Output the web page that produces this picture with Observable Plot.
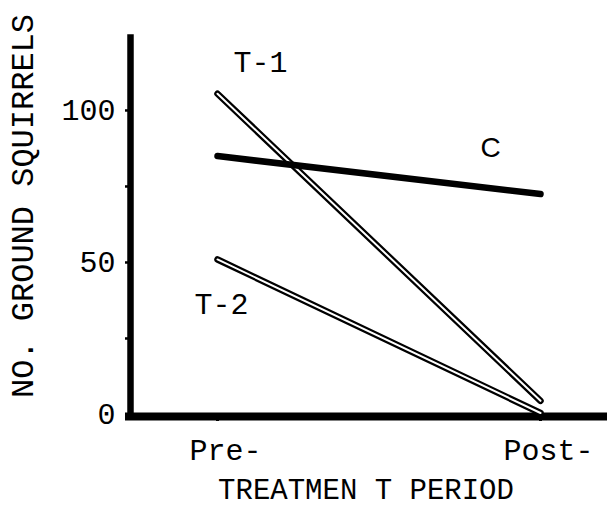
<!DOCTYPE html>
<html>
<head>
<meta charset="utf-8">
<script src="https://cdn.jsdelivr.net/npm/d3@7"></script>
<script src="https://cdn.jsdelivr.net/npm/@observablehq/plot@0.6"></script>
<style>
  html, body { margin: 0; padding: 0; background: #fff; }
</style>
</head>
<body>
<div id="chart"></div>
<script>
// ---- data ----
const periods = ["Pre-", "Post-"];
const seriesNames = ["T-1", "C", "T-2"];
const t1Values = [105.5, 4.5];
const cValues = [85, 72.5];
const t2Values = [51, 0.5];
const yTicks = [0, 25, 50, 75, 100];
const yTickLabels = [0, 50, 100];
const xTitle = "TREATMEN T PERIOD";
const yTitle = "NO. GROUND SQUIRRELS";

const valuesBySeries = { "T-1": t1Values, "C": cValues, "T-2": t2Values };
const rows = seriesNames.flatMap(s => periods.map((p, i) => ({ series: s, period: p, value: valuesBySeries[s][i] })));
const treated = rows.filter(d => d.series !== "C");
const control = rows.filter(d => d.series === "C");
const starts = rows.filter(d => d.period === "Pre-");
const ends = rows.filter(d => d.period === "Post-");

const mono = "'Liberation Mono', 'Courier New', monospace";

const chart = Plot.plot({
  width: 610,
  height: 507,
  marginLeft: 130,
  marginRight: 3,
  marginTop: 37,
  marginBottom: 93,
  style: { fontFamily: mono, fontSize: "30px", background: "white", color: "black" },
  x: { type: "point", domain: periods, range: [217, 540], padding: 0 },
  y: { domain: [0, 124] },
  marks: [
    Plot.axisY({ ticks: yTicks, tickSize: 5, tickPadding: 10, strokeWidth: 2.5, fontSize: 30,
      tickFormat: d => yTickLabels.includes(d) ? String(d) : "", label: null }),
    Plot.axisX({ tickSize: 7, tickPadding: 17, strokeWidth: 3, fontSize: 30, label: null, text: null }),
    Plot.axisX({ tickSize: 0, tickPadding: 24, fontSize: 30, label: null, dx: 8 }),
    Plot.frame({ anchor: "left", stroke: "black", strokeWidth: 6.5 }),
    Plot.ruleY([0], { stroke: "black", strokeWidth: 8, dy: 2, insetLeft: -5 }),
    Plot.line(treated, { x: "period", y: "value", z: "series", stroke: "black", strokeWidth: 6.5, strokeLinecap: "round" }),
    Plot.line(treated, { x: "period", y: "value", z: "series", stroke: "white", strokeWidth: 2, strokeLinecap: "round" }),
    Plot.line(control, { x: "period", y: "value", z: "series", stroke: "black", strokeWidth: 6.5, strokeLinecap: "round" }),
    Plot.text(starts.filter(d => d.series === "T-1"), { x: "period", y: "value", text: "series", dx: 43, dy: -31, fontSize: 30, fontFamily: mono }),
    Plot.text(starts.filter(d => d.series === "T-2"), { x: "period", y: "value", text: "series", dx: 4, dy: 45, fontSize: 30, fontFamily: mono }),
    Plot.text(ends.filter(d => d.series === "C"), { x: "period", y: "value", text: "series", dx: -50, dy: -46, fontSize: 28, fontFamily: "'Liberation Sans', Arial, sans-serif" }),
    Plot.text([xTitle], { frameAnchor: "bottom", textAnchor: "middle", lineAnchor: "middle", dx: -3, dy: 75, fontSize: 29, fontFamily: mono }),
    Plot.text([yTitle], { frameAnchor: "left", textAnchor: "middle", lineAnchor: "middle", rotate: -90, dx: -108, dy: -20, fontSize: 32, fontFamily: mono })
  ]
});
document.getElementById("chart").appendChild(chart);
</script>
</body>
</html>
